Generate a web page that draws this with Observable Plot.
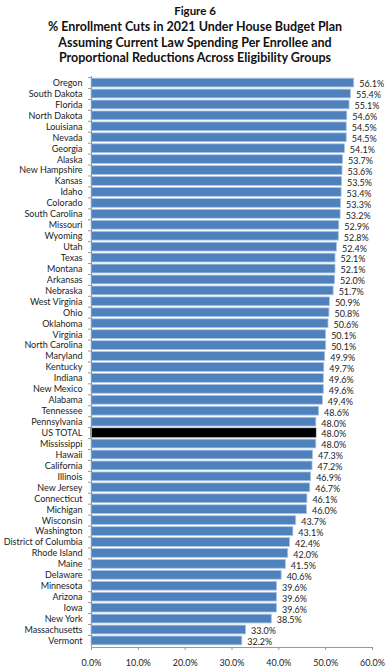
<!DOCTYPE html>
<html>
<head>
<meta charset="utf-8">
<script src="https://cdn.jsdelivr.net/npm/d3@7"></script>
<script src="https://cdn.jsdelivr.net/npm/@observablehq/plot@0.6"></script>
<style>
  html, body { margin: 0; padding: 0; background: #fff; }
  body { width: 390px; height: 672px; overflow: hidden; font-family: Lato, "Open Sans", sans-serif; }
  #title { height: 66px; text-align: center; font-weight: bold; color: #111; padding-top: 4px; box-sizing: border-box; }
  #title .fig { font-size: 11.5px; line-height: 14px; }
  #title .main { font-size: 12.5px; line-height: 15.5px; padding-top: 1px; }
</style>
</head>
<body>
<div id="title">
  <div class="fig">Figure 6</div>
  <div class="main">% Enrollment Cuts in 2021 Under House Budget Plan<br>Assuming Current Law Spending Per Enrollee and<br>Proportional Reductions Across Eligibility Groups</div>
</div>
<div id="chart"></div>
<script>
const states = ["Oregon","South Dakota","Florida","North Dakota","Louisiana","Nevada","Georgia","Alaska","New Hampshire","Kansas","Idaho","Colorado","South Carolina","Missouri","Wyoming","Utah","Texas","Montana","Arkansas","Nebraska","West Virginia","Ohio","Oklahoma","Virginia","North Carolina","Maryland","Kentucky","Indiana","New Mexico","Alabama","Tennessee","Pennsylvania","US TOTAL","Mississippi","Hawaii","California","Illinois","New Jersey","Connecticut","Michigan","Wisconsin","Washington","District of Columbia","Rhode Island","Maine","Delaware","Minnesota","Arizona","Iowa","New York","Massachusetts","Vermont"];
const cuts = [56.1,55.4,55.1,54.6,54.5,54.5,54.1,53.7,53.6,53.5,53.4,53.3,53.2,52.9,52.8,52.4,52.1,52.1,52.0,51.7,50.9,50.8,50.6,50.1,50.1,49.9,49.7,49.6,49.6,49.4,48.6,48.0,48.0,48.0,47.3,47.2,46.9,46.7,46.1,46.0,43.7,43.1,42.4,42.0,41.5,40.6,39.6,39.6,39.6,38.5,33.0,32.2];
const xTicks = [0,10,20,30,40,50,60];

const data = states.map((s, i) => ({state: s, value: cuts[i], total: s === "US TOTAL"}));

const chart = Plot.plot({
  width: 390,
  height: 606,
  marginTop: 10,
  marginBottom: 25,
  marginLeft: 91,
  marginRight: 18,
  style: {fontFamily: "Lato, 'Open Sans', sans-serif", fontSize: "9px", color: "#222", background: "#fff"},
  x: {domain: [0, 60]},
  y: {domain: states, padding: 0.2},
  marks: [
    Plot.barX(data, {
      x: "value", y: "state",
      fill: d => d.total ? "#000" : "#4F81BD",
      stroke: d => d.total ? "#000" : "#A9C3E2",
      strokeWidth: 0.8
    }),
    Plot.text(data, {
      x: "value", y: "state",
      text: d => d.value.toFixed(1) + "%",
      textAnchor: "start", dx: 5, dy: 1.5,
      fill: "#222", fontSize: 9
    }),
    Plot.ruleX([0], {stroke: "#999", strokeWidth: 1}),
    Plot.frame({anchor: "bottom", stroke: "#999"}),
    Plot.axisY({tickSize: 3, tickFormat: () => "", dy: -5.5, stroke: "#999", label: null}),
    Plot.axisY({tickSize: 0, tickPadding: 9, label: null, fontSize: 9, fill: "#222"}),
    Plot.axisX({ticks: xTicks, tickSize: 3, stroke: "#999", tickPadding: 9, tickFormat: d => d.toFixed(1) + "%", label: null, fontSize: 9, fill: "#222"})
  ]
});
document.getElementById("chart").appendChild(chart);
</script>
</body>
</html>
